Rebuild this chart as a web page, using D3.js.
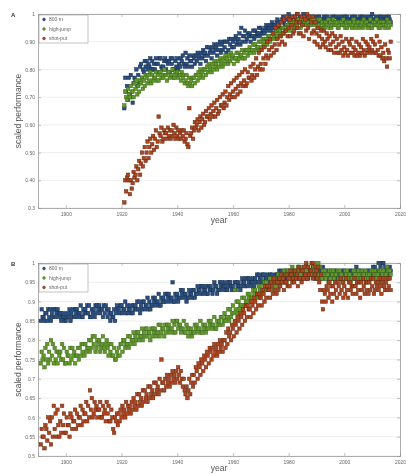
<!DOCTYPE html>
<html><head><meta charset="utf-8">
<script src="https://cdn.jsdelivr.net/npm/d3@7"></script>
<style>body{margin:0;background:#fff}svg{display:block}text{font-family:"Liberation Sans",Arial,sans-serif}</style>
</head><body>
<svg id="c" width="406" height="474"></svg>
<script>
// ---- categories / ticks ----
const seriesNames = ["800 m", "high-jump", "shot-put"];
const xTicks = [1900, 1920, 1940, 1960, 1980, 2000, 2020];
const yTicksA = [0.3, 0.4, 0.5, 0.6, 0.7, 0.8, 0.9, 1];
const yTickLabelsA = ["0.3", "0.40", "0.50", "0.60", "0.70", "0.80", "0.90", "1"];
const yTicksB = [0.5, 0.55, 0.6, 0.65, 0.7, 0.75, 0.8, 0.85, 0.9, 0.95, 1];
const yTickLabelsB = ["0.5", "0.55", "0.6", "0.65", "0.7", "0.75", "0.8", "0.85", "0.9", "0.95", "1"];
const firstYearA = 1921, firstYearB = 1891, lastYear = 2016;

// ---- panel A values: three samples per year, 1921..2016 ----
const blueA = [
.66,.77,.72, .74,.69,.77, .71,.78,.70, .68,.75,.77, .76,.80,.74,
.78,.75,.81, .82,.77,.80, .79,.83,.81, .83,.80,.82, .81,.84,.80,
.83,.80,.82, .80,.84,.82, .82,.79,.84, .84,.81,.80, .81,.83,.84,
.80,.83,.82, .83,.79,.84, .82,.84,.80, .80,.83,.81, .84,.80,.82,
.81,.84,.83, .85,.82,.81, .86,.82,.84, .81,.85,.83, .83,.81,.85,
.84,.82,.85, .83,.86,.84, .85,.82,.86, .84,.87,.85, .86,.83,.88,
.85,.88,.86, .87,.84,.88, .86,.89,.87, .88,.85,.89, .87,.90,.86,
.89,.87,.90, .88,.90,.86, .90,.87,.91, .89,.91,.88, .90,.88,.91,
.92,.89,.90, .91,.93,.89, .95,.90,.92, .92,.94,.90, .91,.93,.92,
.93,.90,.92, .92,.94,.91, .94,.92,.93, .93,.95,.92, .95,.93,.94,
.94,.93,.95, .96,.94,.95, .95,.96,.94, .97,.95,.96, .96,.94,.97,
.98,.96,.95, .97,.95,.98, .99,.97,.96, .98,.96,.99, 1.0,.97,.98,
.98,.99,.97, .97,.99,.98, 1.0,.98,.97, .99,.97,.98, .98,1.0,.97,
.97,.99,.98, .99,.98,.97, .98,.97,.99, .97,.99,.98, .98,.97,.99,
.99,.98,.97, .97,.98,.99, .98,.99,.97, .99,.97,.98, .97,.98,.99,
.98,.99,.97, .99,.97,.98, .97,.99,.98, .98,.97,.99, .98,.99,.97,
.99,.98,.97, .97,.98,.99, .98,.99,.97, .99,.97,.98, .97,.98,.99,
.98,.99,.97, .99,.97,.98, .97,.99,.98, .98,.97,.99, 1.0,.98,.97,
.97,.99,.98, .98,.97,.99, .99,.98,.97, .97,.99,.98, .98,.97,.99,
.99,.98,.97
];
const greenA = [
.67,.72,.70, .69,.73,.71, .70,.74,.72, .72,.70,.75, .73,.76,.71,
.74,.72,.76, .75,.77,.73, .76,.74,.78, .77,.75,.78, .76,.79,.75,
.78,.76,.77, .77,.79,.76, .78,.76,.79, .79,.77,.78, .77,.80,.78,
.78,.76,.79, .79,.77,.78, .78,.80,.77, .77,.79,.78, .79,.77,.78,
.78,.76,.79, .77,.78,.75, .76,.78,.75, .74,.77,.75, .76,.74,.77,
.77,.75,.78, .78,.76,.79, .77,.80,.78, .79,.77,.80, .80,.78,.81,
.79,.82,.80, .81,.79,.82, .80,.83,.81, .82,.80,.83, .81,.84,.82,
.83,.81,.84, .82,.85,.83, .84,.82,.85, .83,.86,.84, .85,.82,.84,
.84,.86,.83, .86,.84,.85, .85,.87,.84, .86,.84,.87, .87,.85,.86,
.88,.86,.87, .87,.89,.86, .89,.87,.88, .88,.90,.87, .90,.88,.91,
.89,.91,.90, .91,.89,.92, .92,.90,.91, .91,.93,.92, .93,.91,.94,
.92,.94,.93, .94,.92,.95, .95,.93,.94, .94,.96,.95, .96,.94,.97,
.95,.97,.96, .97,.95,.96, .96,.98,.95, .97,.95,.98, .96,.98,.97,
.98,.96,.97, .97,.99,.96, .96,.98,.97, .98,.96,.97, .97,.95,.98,
.96,.98,.95, .97,.95,.96, .95,.97,.96, .96,.98,.95, .97,.95,.96,
.98,.96,.97, .96,.97,.95, .95,.97,.96, .97,.96,.98, .96,.95,.97,
.95,.97,.96, .97,.96,.95, .96,.98,.97, .95,.96,.97, .97,.95,.96,
.96,.97,.95, .98,.96,.97, .97,.95,.96, .96,.98,.95, .95,.97,.96,
.97,.96,.98, .96,.95,.97, .95,.97,.96, .97,.96,.95, .96,.98,.97,
.95,.97,.96
];
const redA = [
.32,.40,.36, .41,.42,.40, .35,.40,.37, .39,.43,.41, .42,.45,.40,
.44,.47,.42, .46,.50,.45, .48,.52,.47, .50,.54,.48, .52,.55,.50,
.53,.56,.51, .55,.58,.52, .54,.63,.57, .56,.59,.54, .55,.58,.57,
.57,.55,.59, .56,.58,.55, .58,.56,.60, .57,.55,.59, .56,.58,.55,
.57,.55,.58, .56,.58,.54, .55,.57,.53, .52,.66,.56, .57,.59,.55,
.58,.61,.59, .60,.62,.58, .61,.63,.59, .62,.64,.60, .61,.65,.63,
.63,.66,.62, .64,.67,.63, .65,.68,.63, .66,.69,.64, .65,.70,.67,
.67,.71,.66, .68,.72,.67, .70,.74,.69, .71,.75,.70, .72,.76,.70,
.73,.77,.71, .74,.78,.72, .75,.79,.74, .76,.80,.74, .75,.79,.77,
.77,.81,.76, .78,.82,.77, .80,.84,.78, .81,.86,.80, .82,.87,.80,
.84,.88,.82, .85,.90,.84, .87,.91,.85, .88,.93,.86, .89,.95,.87,
.91,.96,.89, .92,.97,.90, .93,.98,.89, .94,.99,.92, .95,.98,.92,
.96,.99,.93, .94,.99,.97, .95,1.0,.93, .97,.93,.99, .96,.92,.99,
.98,.94,1.0, .95,.91,.99, .97,.93,.99, .94,.90,.97, .93,.89,.95,
.92,.88,.94, .91,.89,.94, .90,.88,.93, .91,.87,.92, .89,.87,.93,
.90,.86,.92, .88,.91,.86, .89,.86,.92, .87,.90,.85, .88,.86,.91,
.87,.85,.90, .89,.86,.91, .86,.88,.85, .87,.90,.85, .86,.89,.85,
.88,.86,.91, .87,.85,.90, .86,.89,.87, .88,.86,.91, .87,.90,.86,
.89,.86,.92, .87,.85,.90, .85,.88,.84, .86,.83,.89, .84,.81,.87,
.86,.84,.90
];

// ---- panel B values: three samples per year, 1891..2016 ----
const blueB = [
.85,.88,.86, .86,.85,.87, .87,.85,.88, .86,.88,.85, .87,.86,.88,
.86,.88,.87, .88,.86,.87, .87,.85,.86, .86,.87,.85, .85,.86,.87,
.86,.88,.85, .87,.86,.88, .86,.88,.87, .88,.86,.87, .87,.89,.86,
.86,.88,.87, .88,.87,.89, .87,.89,.86, .86,.88,.87, .88,.86,.89,
.87,.89,.88, .89,.87,.88, .88,.86,.89, .87,.89,.88, .86,.88,.87,
.85,.87,.86, .86,.88,.85, .87,.89,.88, .88,.87,.89, .89,.87,.88,
.88,.90,.87, .89,.87,.88, .88,.89,.87, .87,.89,.88, .89,.88,.90,
.88,.90,.87, .89,.88,.90, .90,.88,.89, .89,.91,.88, .90,.88,.89,
.89,.91,.90, .91,.89,.90, .90,.92,.89, .89,.91,.90, .91,.90,.92,
.90,.92,.91, .92,.90,.91, .91,.95,.90, .90,.92,.91, .92,.90,.91,
.91,.93,.92, .93,.91,.92, .92,.90,.91, .91,.93,.92, .92,.91,.93,
.93,.91,.92, .92,.94,.93, .93,.92,.94, .94,.92,.93, .93,.94,.92,
.92,.94,.93, .94,.93,.92, .93,.95,.94, .94,.92,.93, .93,.95,.94,
.95,.93,.94, .94,.95,.93, .93,.94,.95, .95,.94,.93, .94,.93,.95,
.93,.95,.94, .95,.94,.93, .94,.96,.95, .95,.94,.96, .94,.96,.95,
.96,.94,.95, .95,.96,.94, .96,.95,.97, .95,.97,.96, .96,.95,.97,
.97,.95,.96, .96,.97,.95, .95,.97,.96, .97,.96,.95, .96,.97,.95,
.97,.96,.98, .96,.98,.97, .97,.96,.98, .98,.96,.97, .97,.96,.98,
.96,.98,.97, .98,.97,.96, .97,.98,.96, .96,.97,.98, .98,.96,.97,
.97,.99,.96, .96,.98,.97, .98,.97,.99, .97,.96,.98, .96,.98,.97,
.98,.97,.96, .97,.99,.98, .96,.98,.97, .98,.96,.97, .97,.98,.96,
.96,.97,.98, .98,.96,.97, .97,.98,.96, .96,.97,.98, .98,.97,.96,
.97,.96,.98, .96,.98,.97, .98,.97,.96, .97,.99,.98, .96,.98,.97,
.98,.96,.97, .97,.98,.96, .96,.97,.98, .98,.97,.96, .97,.99,.98,
.99,.97,.98, .98,1.0,.97, .99,.97,1.0, 1.0,.98,.99, .98,.99,.97,
.97,.99,.98
];
const greenB = [
.74,.77,.75, .76,.73,.78, .75,.79,.74, .77,.75,.80, .76,.79,.74,
.78,.75,.77, .74,.77,.76, .77,.75,.79, .75,.78,.74, .74,.77,.76,
.76,.74,.78, .75,.78,.76, .77,.74,.76, .76,.78,.75, .78,.76,.79,
.77,.79,.76, .79,.77,.78, .78,.80,.77, .80,.78,.81, .79,.81,.77,
.78,.80,.79, .80,.77,.78, .79,.81,.78, .77,.79,.80, .78,.76,.79,
.77,.79,.76, .76,.78,.75, .75,.77,.76, .78,.76,.79, .79,.77,.80,
.80,.78,.79, .79,.81,.78, .81,.79,.80, .80,.82,.79, .81,.80,.82,
.82,.80,.81, .81,.83,.80, .82,.81,.83, .83,.81,.82, .82,.80,.83,
.81,.83,.82, .83,.81,.82, .82,.84,.81, .84,.82,.83, .83,.81,.84,
.82,.84,.83, .84,.82,.83, .83,.85,.82, .84,.82,.85, .85,.83,.84,
.84,.82,.83, .83,.85,.82, .82,.84,.83, .81,.83,.82, .83,.81,.82,
.82,.84,.83, .84,.82,.83, .83,.85,.82, .82,.84,.83, .84,.82,.83,
.83,.85,.84, .85,.83,.84, .84,.86,.83, .83,.85,.84, .85,.84,.86,
.86,.84,.85, .87,.85,.86, .86,.88,.85, .88,.86,.87, .89,.87,.93,
.88,.90,.87, .90,.88,.89, .89,.91,.88, .91,.89,.90, .90,.92,.91,
.92,.90,.91, .91,.93,.92, .93,.91,.92, .92,.94,.93, .94,.92,.93,
.93,.95,.94, .95,.93,.94, .94,.96,.95, .95,.93,.96, .96,.94,.95,
.95,.97,.94, .97,.95,.96, .96,.98,.95, .97,.95,.98, .98,.96,.97,
.97,.99,.96, .98,.96,.97, .97,.99,.98, .99,.97,.98, .98,.96,.99,
.97,.99,.98, .99,.97,.98, .98,1.0,.97, .99,.97,.98, .98,.96,1.0,
.97,.99,.96, .96,.98,.97, .98,.96,.97, .97,.95,.98, .96,.98,.97,
.98,.96,.97, .97,.95,.98, .96,.98,.97, .97,.96,.95, .96,.98,.97,
.98,.96,.97, .97,.95,.96, .96,.98,.97, .97,.96,.95, .98,.97,.96,
.96,.98,.97, .97,.96,.98, .95,.97,.96, .97,.96,.98, .96,.98,.97,
.98,.97,.96, .97,.95,.98, .96,.98,.97, .98,.96,.97, .97,.99,.98,
.96,.98,.97
];
const redB = [
.53,.57,.55, .55,.52,.58, .57,.54,.60, .56,.59,.53, .60,.55,.63,
.57,.61,.55, .62,.58,.55, .59,.56,.63, .58,.61,.56, .56,.60,.58,
.58,.55,.61, .60,.57,.59, .59,.62,.57, .61,.58,.60, .60,.63,.58,
.62,.59,.61, .61,.64,.59, .63,.60,.67, .62,.65,.60, .61,.64,.62,
.63,.60,.62, .62,.64,.60, .60,.63,.61, .62,.59,.64, .61,.63,.59,
.59,.62,.60, .57,.56,.60, .59,.61,.58, .61,.59,.62, .60,.63,.61,
.62,.60,.64, .61,.63,.62, .63,.61,.64, .62,.65,.63, .64,.62,.66,
.63,.66,.64, .65,.63,.67, .64,.67,.65, .66,.64,.68, .65,.68,.66,
.67,.65,.69, .66,.69,.67, .68,.66,.70, .67,.75,.69, .69,.67,.70,
.68,.71,.69, .70,.68,.71, .69,.72,.70, .71,.69,.72, .70,.73,.71,
.69,.72,.70, .68,.70,.67, .66,.68,.65, .67,.70,.66, .69,.71,.68,
.71,.69,.73, .72,.70,.74, .73,.71,.75, .74,.72,.76, .75,.73,.77,
.76,.74,.78, .77,.75,.78, .76,.79,.77, .78,.76,.79, .77,.80,.78,
.79,.77,.80, .80,.78,.82, .79,.83,.81, .82,.80,.84, .83,.81,.85,
.84,.82,.86, .85,.83,.87, .86,.84,.88, .87,.85,.89, .86,.89,.88,
.88,.86,.90, .89,.87,.91, .90,.88,.92, .89,.92,.91, .91,.89,.93,
.92,.90,.94, .91,.94,.93, .93,.91,.95, .94,.92,.96, .93,.95,.92,
.95,.93,.96, .94,.97,.95, .96,.93,.95, .95,.97,.94, .96,.94,.98,
.97,.95,.96, .95,.98,.96, .97,.94,.99, .96,.98,.95, .98,.96,.99,
.97,1.0,.96, .99,.97,.98, .98,1.0,.96, 1.0,.97,.99, .98,.96,.99,
.95,.93,.97, .90,.88,.93, .92,.90,.94, .93,.91,.95, .92,.94,.90,
.94,.92,.95, .93,.91,.95, .94,.92,.96, .93,.95,.91, .94,.92,.96,
.93,.91,.95, .95,.93,.94, .92,.94,.96, .94,.92,.95, .93,.95,.91,
.95,.93,.96, .94,.92,.95, .93,.95,.92, .95,.93,.96, .94,.96,.92,
.93,.95,.94, .95,.93,.96, .94,.92,.95, .96,.94,.93, .95,.93,.96,
.94,.96,.93
];

// ---- styles ----
const fills = ["#2a4f80", "#62992c", "#ad4520"];
const strokes = ["#18304f", "#3d6a1b", "#6a2810"];
const W = 406, H = 474;
const svg = d3.select("#c");
svg.append("rect").attr("width", W).attr("height", H).attr("fill", "#fff");
const defs = svg.append("defs");
defs.append("filter").attr("id", "soft").append("feGaussianBlur").attr("stdDeviation", 0.6);
const root = svg.append("g").attr("filter", "url(#soft)");

function toPoints(arr, firstYear) {
  const years = d3.range(firstYear, lastYear + 1);
  const pts = [];
  years.forEach((y, i) => {
    for (let k = 0; k < 3; k++) {
      const v = arr[3 * i + k];
      if (v !== undefined) pts.push({ t: y + k / 3, v });
    }
  });
  return pts;
}

function panel(opt) {
  const { top, bottom, left, right, yDomain, yTicks, yLabels, series, letter, firstYear } = opt;
  const x = d3.scaleLinear().domain([1890, 2020]).range([left, right]);
  const y = d3.scaleLinear().domain(yDomain).range([bottom, top]);
  const g = root.append("g");

  // grid
  g.append("g").selectAll("line").data(yTicks).join("line")
    .attr("x1", left).attr("x2", right)
    .attr("y1", d => y(d)).attr("y2", d => y(d))
    .attr("stroke", "#e6e6e6").attr("stroke-width", 0.7);

  // axes
  const ax = g.append("g").attr("transform", `translate(0,${bottom})`)
    .call(d3.axisBottom(x).tickValues(xTicks).tickFormat(d3.format("d")).tickSize(-3).tickPadding(4));
  const axTop = g.append("g").attr("transform", `translate(0,${top})`)
    .call(d3.axisTop(x).tickValues(xTicks).tickFormat("").tickSize(-3));
  const ay = g.append("g").attr("transform", `translate(${left},0)`)
    .call(d3.axisLeft(y).tickValues(yTicks).tickFormat((d, i) => yLabels[i]).tickSize(-3).tickPadding(3));
  const ayR = g.append("g").attr("transform", `translate(${right},0)`)
    .call(d3.axisRight(y).tickValues(yTicks).tickFormat("").tickSize(-3));
  [ax, axTop, ay, ayR].forEach(a => {
    a.select(".domain").attr("stroke", "#999").attr("stroke-width", 0.8);
    a.selectAll(".tick line").attr("stroke", "#999").attr("stroke-width", 0.6);
    a.selectAll("text").attr("fill", "#666").attr("font-size", 5);
  });

  // points
  series.forEach((arr, si) => {
    g.append("g").selectAll("rect").data(toPoints(arr, firstYear)).join("rect")
      .attr("x", d => x(d.t) - 1.75).attr("y", d => y(d.v) - 1.75)
      .attr("width", 3.5).attr("height", 3.5)
      .attr("fill", fills[si]).attr("stroke", strokes[si]).attr("stroke-width", 0.5);
  });

  // labels
  g.append("text").attr("x", (left + right) / 2).attr("y", bottom + 14.5)
    .attr("text-anchor", "middle").attr("font-size", 8.5).attr("fill", "#555").text("year");
  g.append("text").attr("transform", `translate(21,${(top + bottom) / 2}) rotate(-90)`)
    .attr("text-anchor", "middle").attr("font-size", 8.5).attr("fill", "#555").text("scaled performance");
  g.append("text").attr("x", 11).attr("y", top + 3).attr("font-size", 6)
    .attr("font-weight", "bold").attr("fill", "#333").text(letter);

  // legend
  const lg = g.append("g").attr("transform", `translate(${left + 1},${top + 1})`);
  lg.append("rect").attr("width", 49).attr("height", 28).attr("fill", "#fff")
    .attr("stroke", "#999").attr("stroke-width", 0.6);
  seriesNames.forEach((n, i) => {
    lg.append("circle").attr("cx", 5).attr("cy", 4.5 + i * 9.5).attr("r", 1.4)
      .attr("fill", fills[i]).attr("stroke", strokes[i]).attr("stroke-width", 0.4);
    lg.append("text").attr("x", 10).attr("y", 6.3 + i * 9.5).attr("font-size", 5)
      .attr("fill", "#666").text(n);
  });
}

panel({ top: 14, bottom: 208, left: 38, right: 400, yDomain: [0.3, 1], yTicks: yTicksA,
  yLabels: yTickLabelsA, series: [blueA, greenA, redA], letter: "A", firstYear: firstYearA });
panel({ top: 263, bottom: 456, left: 38, right: 400, yDomain: [0.5, 1], yTicks: yTicksB,
  yLabels: yTickLabelsB, series: [blueB, greenB, redB], letter: "B", firstYear: firstYearB });
</script>
</body></html>
